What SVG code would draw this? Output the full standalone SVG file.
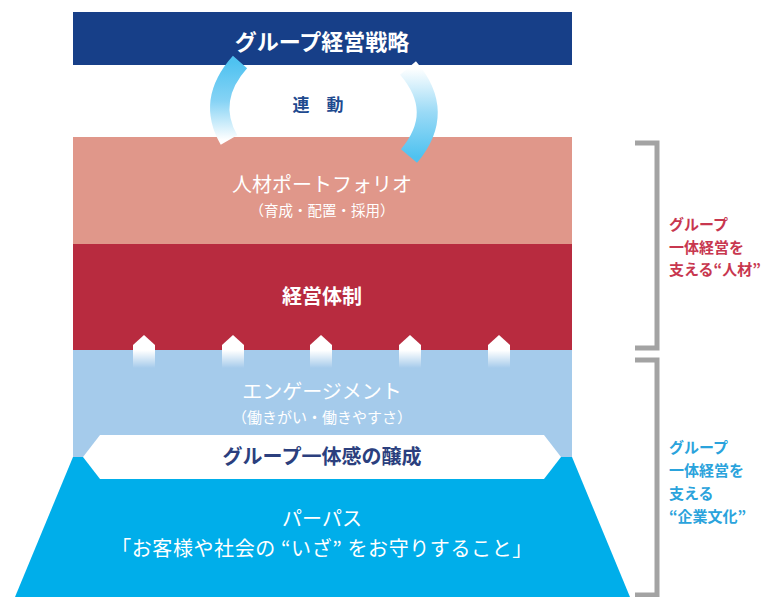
<svg xmlns="http://www.w3.org/2000/svg" width="765" height="597" viewBox="0 0 765 597">
<defs>
<style>
text{font-family:"Noto Sans CJK JP","Noto Sans",sans-serif;text-anchor:middle}
.w{fill:#ffffff}
.b{font-weight:bold}
.lbl{text-anchor:start;font-size:15px;font-weight:bold}
.br{fill:none;stroke:#a3a3a3;stroke-width:5}
</style>
<linearGradient id="gL" gradientUnits="userSpaceOnUse" x1="0" y1="62" x2="0" y2="140">
<stop offset="0" stop-color="#4fc2f0"/><stop offset="0.5" stop-color="#86d3f5"/><stop offset="1" stop-color="#ffffff"/>
</linearGradient>
<linearGradient id="gR" gradientUnits="userSpaceOnUse" x1="0" y1="68" x2="0" y2="157">
<stop offset="0" stop-color="#ffffff"/><stop offset="0.5" stop-color="#9adaf6"/><stop offset="1" stop-color="#4fc2f0"/>
</linearGradient>
<linearGradient id="gH" gradientUnits="userSpaceOnUse" x1="0" y1="336" x2="0" y2="368">
<stop offset="0" stop-color="#ffffff"/><stop offset="0.45" stop-color="#ffffff"/><stop offset="1" stop-color="#ffffff" stop-opacity="0"/>
</linearGradient>
<path id="house" d="M -11 345 L 0 335 L 11 345 L 11 368 L -11 368 Z" fill="url(#gH)"/>
</defs>
<rect width="765" height="597" fill="#ffffff"/>

<g id="strategy">
<rect x="73" y="12" width="499" height="53" fill="#173f88"/>
<text x="322" y="50" class="w b" font-size="22">グループ経営戦略</text>
</g>

<g id="portfolio">
<rect x="73" y="137" width="499" height="107" fill="#e0978a"/>
<text x="322" y="192" class="w" font-size="20">人材ポートフォリオ</text>
<text x="322" y="216" class="w" font-size="14.5">（育成・配置・採用）</text>
</g>

<g id="management">
<rect x="73" y="244" width="499" height="106" fill="#b82b3f"/>
<text x="322" y="304" class="w b" font-size="20">経営体制</text>
</g>

<g id="engagement">
<rect x="73" y="350" width="499" height="108" fill="#a5cbeb"/>
<text x="322" y="399" class="w" font-size="20">エンゲージメント</text>
<text x="322" y="423" class="w" font-size="15">（働きがい・働きやすさ）</text>
</g>

<g id="arrows-up">
<use href="#house" x="144"/>
<use href="#house" x="233"/>
<use href="#house" x="321"/>
<use href="#house" x="410"/>
<use href="#house" x="499"/>
</g>

<g id="purpose">
<polygon points="73,457 572,457 630,597 15,597" fill="#00aeea"/>
<text x="322" y="526" class="w" font-size="20">パーパス</text>
<text x="322" y="556" class="w" font-size="20" letter-spacing="0.6">「お客様や社会の “いざ” をお守りすること」</text>
</g>

<g id="unity">
<polygon points="83,457 100,435 544,435 561,457 544,479 100,479" fill="#ffffff"/>
<text x="322" y="464" class="b" font-size="20" fill="#2b3f7e">グループ一体感の醸成</text>
</g>

<g id="connectors">
<path d="M 240 62 Q 206 100 229 140" fill="none" stroke="url(#gL)" stroke-width="19"/>
<path d="M 408 68 Q 446 112 409 156" fill="none" stroke="url(#gR)" stroke-width="21"/>
</g>

<g id="linkage">
<text x="318" y="111" class="b" font-size="17" fill="#1f4a8f">連　動</text>
</g>

<g id="bracket-people">
<polyline class="br" points="635,143 657,143 657,348 635,348"/>
<text class="lbl" fill="#c8374f"><tspan x="669" y="230">グループ</tspan><tspan x="669" y="252.5">一体経営を</tspan><tspan x="669" y="275">支える“人材”</tspan></text>
</g>

<g id="bracket-culture">
<polyline class="br" points="635,360 657,360 657,595 635,595"/>
<text class="lbl" fill="#2aa3dc"><tspan x="669" y="453">グループ</tspan><tspan x="669" y="476">一体経営を</tspan><tspan x="669" y="499">支える</tspan><tspan x="669" y="522">“企業文化”</tspan></text>
</g>
</svg>
